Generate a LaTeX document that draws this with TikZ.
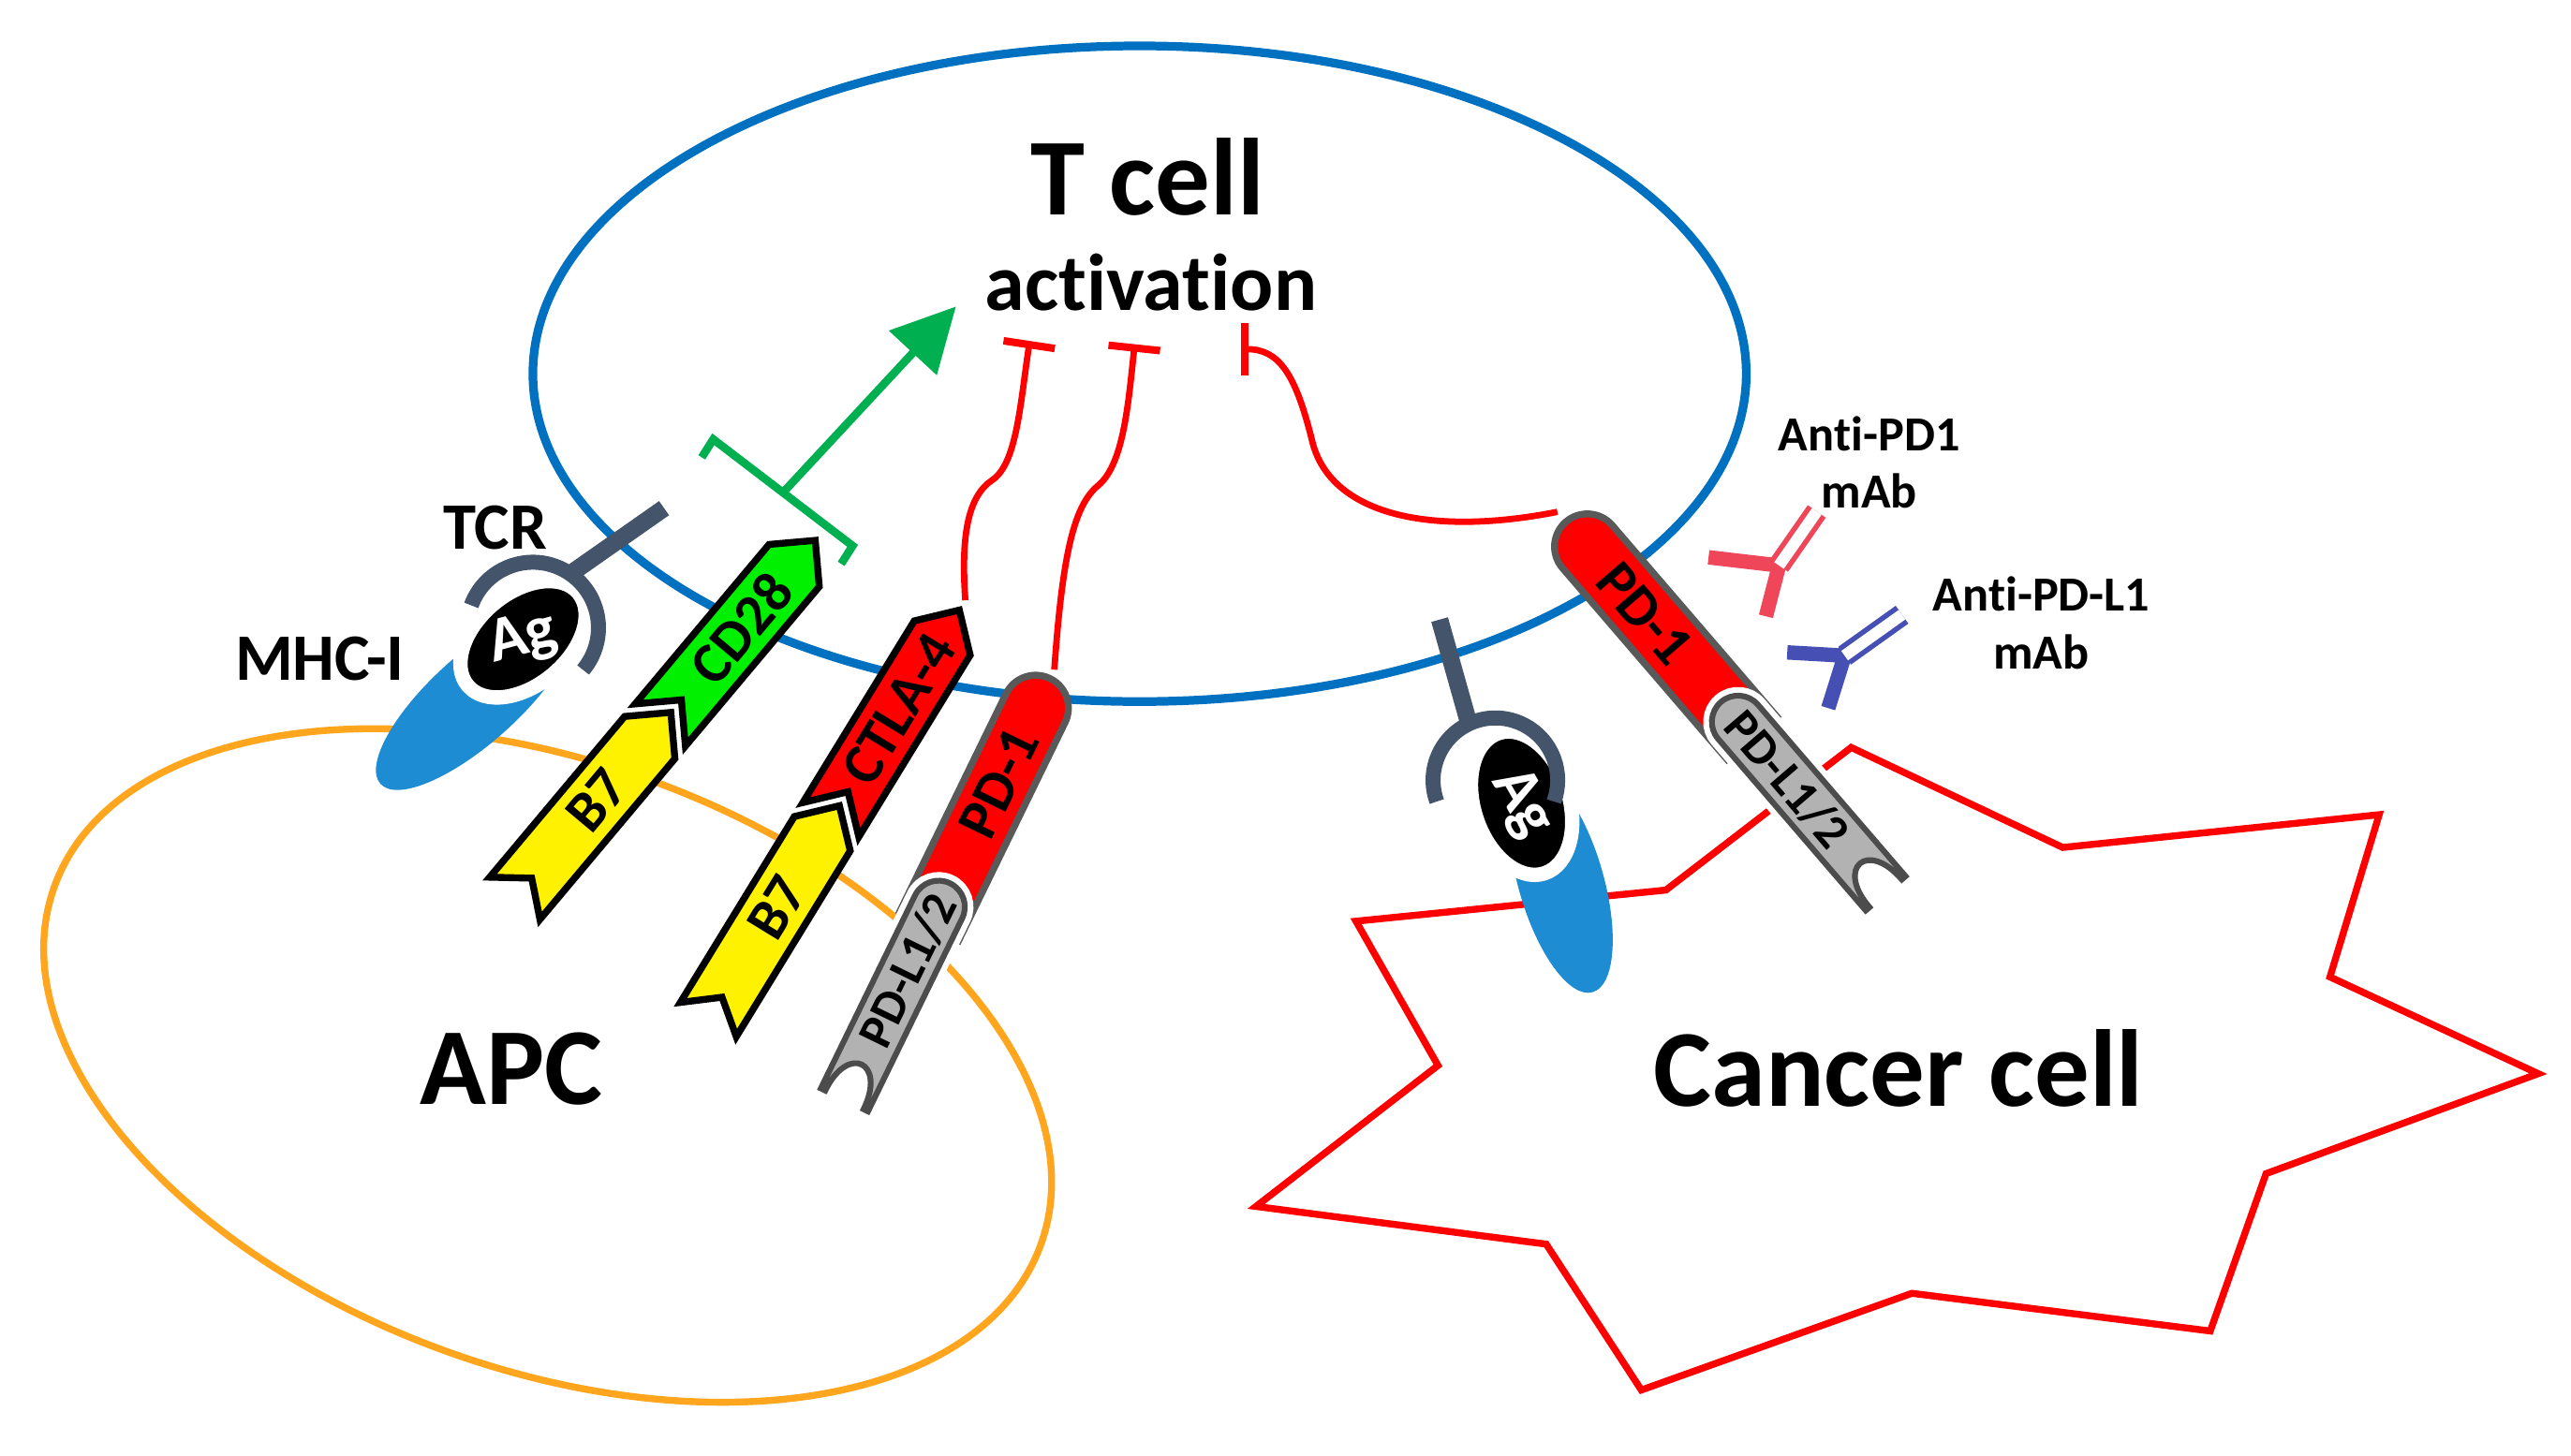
\documentclass[tikz,border=0pt]{standalone}
\usepackage{fontspec}
\setmainfont{Carlito}[Ligatures={NoCommon}]
\usetikzlibrary{arrows.meta}
\definecolor{tblue}{RGB}{0,112,192}
\definecolor{apc}{RGB}{255,165,30}
\definecolor{gr}{RGB}{0,176,80}
\definecolor{slate}{RGB}{68,84,106}
\definecolor{mhc}{RGB}{30,140,210}
\definecolor{abr}{RGB}{240,70,90}
\definecolor{abb}{RGB}{70,80,180}
\definecolor{lime}{RGB}{0,240,0}
\tikzset{
 rec/.style={draw=black,line width=1.2pt,line join=miter},
 lbl/.style={font=\bfseries\fontsize{10}{10}\selectfont,transform shape},
 lbs/.style={font=\bfseries\fontsize{8.5}{8.5}\selectfont,transform shape},
 inh/.style={red,line width=1.1pt,-{Bar[width=9pt,line width=1.3pt]}},
 big/.style={font=\bfseries\fontsize{19}{19}\selectfont},
 mid/.style={font=\bfseries\fontsize{11.5}{11.5}\selectfont},
 sm/.style={font=\bfseries\fontsize{8.5}{10}\selectfont,align=center},
}
\begin{document}
\begin{tikzpicture}[x=0.1mm,y=0.1mm]
\useasboundingbox (0,0) rectangle (1568,888);
% cells
\draw[tblue,line width=1.5pt] (695,660) ellipse [x radius=370,y radius=200];
\draw[apc,line width=1.2pt,rotate around={-20:(334,238)}] (334,238) ellipse [x radius=320,y radius=185];
\draw[red,line width=1.2pt] (1129,432) -- (1258,371) -- (1451,391) -- (1421,292) -- (1548,233) -- (1382,172) -- (1348,76) -- (1166,99) -- (1001,40) -- (943,129) -- (766,152) -- (877,238) -- (827,326) -- (1016,345) -- cycle;
\node[big] (tc) at (700,780) {T cell};
\node[font=\bfseries\fontsize{14}{14}\selectfont] (act) at (702,716) {activation};
\node[big] (apcl) at (312,236) {APC};
\node[big] (ccl) at (1158,236) {Cancer cell};
\node[mid] (tcr) at (302,566) {TCR};
\node[mid] (mhcl) at (195,486) {MHC-I};
\node[sm] (ab1) at (1140,606) {Anti-PD1\\mAb};
\node[sm] (ab2) at (1245,508) {Anti-PD-L1\\mAb};
% left MHC/TCR complex
\fill[mhc,rotate around={42:(290,462)}] (290,462) ellipse [x radius=78,y radius=27];
\draw[white,line width=2.5pt,fill=black,rotate around={40:(319,498)}] (319,498) ellipse [x radius=44,y radius=28];
\node[white,font=\bfseries\fontsize{11}{11}\selectfont,rotate=15] at (319,498) {Ag};
\draw[slate,line width=2.6pt] (325,505) ++(160:40) arc[start angle=160,end angle=-40,radius=40];
\draw[slate,line width=3pt] (348,538) -- (405,578);
% right MHC/TCR complex
\fill[mhc,rotate around={-74:(952,350)}] (952,350) ellipse [x radius=70,y radius=26];
\draw[white,line width=2.5pt,fill=black,rotate around={-72:(928,398)}] (928,398) ellipse [x radius=45,y radius=29];
\node[white,font=\bfseries\fontsize{11}{11}\selectfont,rotate=-60] at (928,398) {Ag};
\draw[slate,line width=2.6pt] (912,412) ++(200:38) arc[start angle=200,end angle=-20,radius=38];
\draw[slate,line width=3pt] (896,446) -- (878,510);
% B7 / CD28
\begin{scope}[shift={(314,340)},rotate=50]
 \draw[rec,fill=yellow] (0,-20) -- (16,0) -- (0,20) -- (128,20) -- (148,0) -- (128,-20) -- cycle;
 \draw[rec,fill=lime] (138,-20) -- (158,0) -- (138,20) -- (265,20) -- (285,0) -- (265,-20) -- cycle;
 \node[lbl] at (78,0) {B7};
 \node[lbl] at (215,0) {CD28};
 \coordinate (cd28) at (285,0);
\end{scope}
% B7 / CTLA-4
\begin{scope}[shift={(432,266)},rotate=58.5]
 \draw[rec,fill=yellow] (0,-20) -- (16,0) -- (0,20) -- (133,20) -- (153,0) -- (133,-20) -- cycle;
 \draw[rec,fill=red] (143,-20) -- (163,0) -- (143,20) -- (273,20) -- (293,0) -- (273,-20) -- cycle;
 \node[lbl] at (80,0) {B7};
 \node[lbl] at (222,0) {CTLA-4};
 \coordinate (ctla) at (300,0);
\end{scope}
% PD-L1 / PD-1 left
\begin{scope}[shift={(515,217)},rotate=64]
 \draw[draw=gray!70!black,line width=1.2pt,fill=red] (118,-20) -- (266,-20) arc[start angle=-90,end angle=90,radius=20] -- (118,20) -- cycle;
 \draw[white,line width=3pt] (0,-16) -- (131,-16) arc[start angle=-90,end angle=90,radius=16] -- (0,16);
 \draw[draw=gray!60!black,line width=1pt,fill=gray!60] (0,-16) -- (131,-16) arc[start angle=-90,end angle=90,radius=16] -- (0,16) -- (0,13) .. controls (32,13) and (32,-13) .. (0,-13) -- cycle;
 \node[lbs] at (88,0) {PD-L1/2};
 \node[lbl] at (215,0) {PD-1};
 \coordinate (pd1a) at (292,0);
\end{scope}
% PD-1 / PD-L1 right
\begin{scope}[shift={(1150,343)},rotate=130.7]
 \draw[draw=gray!70!black,line width=1.2pt,fill=red] (125,-20) -- (279,-20) arc[start angle=-90,end angle=90,radius=20] -- (125,20) -- cycle;
 \draw[white,line width=3pt] (0,-16) -- (138,-16) arc[start angle=-90,end angle=90,radius=16] -- (0,16);
 \draw[draw=gray!60!black,line width=1pt,fill=gray!60] (0,-16) -- (138,-16) arc[start angle=-90,end angle=90,radius=16] -- (0,16) -- (0,13) .. controls (32,13) and (32,-13) .. (0,-13) -- cycle;
 \node[lbs,rotate=180] at (92,0) {PD-L1/2};
 \node[lbl,rotate=180] at (225,0) {PD-1};
 \coordinate (pd1b) at (307,0);
\end{scope}
% green activation
\coordinate (bk1) at (435,620);
\coordinate (bk2) at (520,555);
\coordinate (bm) at (478,588);
\coordinate (atip) at (583,701);
\draw[gr,line width=1.4pt] (428,609) -- (bk1) -- (bk2) -- (513,544);
\draw[gr,line width=1.4pt,-{Triangle[width=11pt,length=11pt]}] (bm) -- (atip);
% red inhibition
\coordinate (e1) at (628,680);
\coordinate (e2) at (692,678);
\coordinate (e3) at (757,675);
\draw[inh] (ctla) .. controls (586,560) and (590,585) .. (605,595) .. controls (620,605) and (622,640) .. (e1);
\draw[inh] (pd1a) .. controls (648,550) and (655,580) .. (670,592) .. controls (685,605) and (688,640) .. (e2);
\draw[inh] (pd1b) .. controls (870,560) and (810,575) .. (800,620) .. controls (790,660) and (780,675) .. (e3);
% antibodies
\draw[abr,line width=2.5pt] (1077,512) -- (1085,543) -- (1042,548);
\draw[abr,line width=0.9pt,double=white,double distance=2pt] (1085,543) -- (1108,576);
\draw[abb,line width=2.5pt] (1115,456) -- (1125,488) -- (1090,490);
\draw[abb,line width=0.9pt,double=white,double distance=2pt] (1125,488) -- (1160,513);
\end{tikzpicture}
\end{document}
